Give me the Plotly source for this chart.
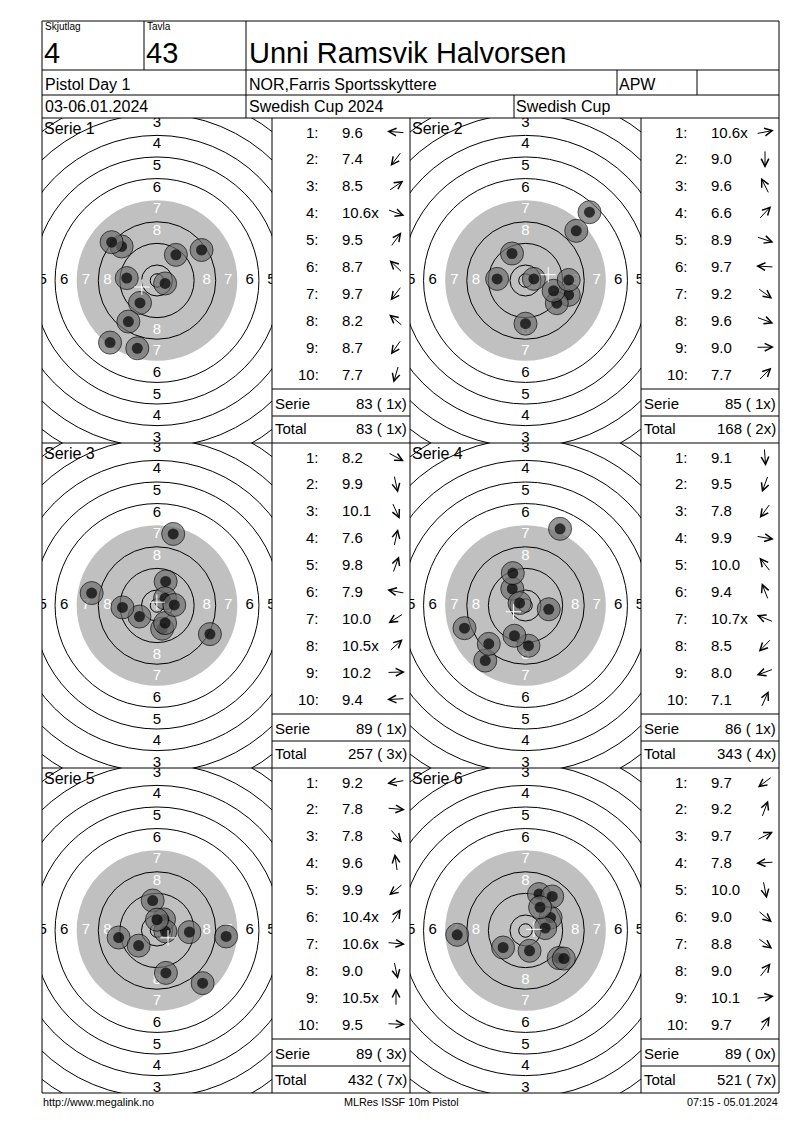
import math
import plotly.graph_objects as go

# ---------------------------------------------------------------
# Data read from the result sheet
# ---------------------------------------------------------------
SHOOTING_GROUP = "4"
TARGET_NO = "43"
SHOOTER = "Unni Ramsvik Halvorsen"
EVENT = "Pistol Day 1"
CLUB = "NOR,Farris Sportsskyttere"
SHOOTER_CLASS = "APW"
DATES = "03-06.01.2024"
COMPETITION = "Swedish Cup 2024"
CUP = "Swedish Cup"

SERIES_NAMES = ["Serie 1", "Serie 2", "Serie 3", "Serie 4", "Serie 5", "Serie 6"]

# shot centres in mm from the target centre (y up), in shot order
S1_X = [-11.2, -17.4, 16.5, 3.0, 7.0, -13.1, -6.3, -16.8, -10.6, -7.3]
S1_Y = [0.9, -23.0, 11.3, -1.1, 9.5, 12.6, -8.3, 14.2, -15.2, -25.1]
S2_X = [3.1, 0.0, -5.0, 23.7, 16.0, -10.5, 11.6, 10.4, 16.0, 18.8]
S2_Y = [0.6, -16.0, 10.0, 25.3, -5.3, 0.6, -8.4, -3.8, 0.2, 18.4]
S3_X = [19.6, 1.9, 3.0, 6.0, 3.2, -24.2, -6.5, 3.0, 6.4, -12.8]
S3_Y = [-10.6, -8.6, -6.5, 26.5, 8.9, 4.6, -4.1, 2.7, 0.2, -0.7]
S4_X = [1.1, -4.1, -14.9, 8.6, -4.9, -4.7, -2.2, -13.6, -22.6, 12.8]
S4_Y = [-14.9, -11.2, -20.4, -1.4, 6.2, 12.0, 0.9, -14.2, -8.4, 28.4]
S5_X = [-14.2, 25.6, 16.9, -1.6, -6.8, 2.6, 3.1, 3.3, 0.0, 12.0]
S5_Y = [-2.6, -2.2, -19.5, 11.1, -5.6, 4.1, -0.3, -15.7, 4.0, -0.6]
S6_X = [-8.3, 5.0, 9.3, -25.3, 1.5, 12.3, 14.2, 9.9, 7.3, 5.4]
S6_Y = [-6.3, 13.5, 4.8, -1.6, -7.5, -10.2, -10.4, 12.6, 0.9, 8.6]

S1_SCORES = ["9.6", "7.4", "8.5", "10.6x", "9.5", "8.7", "9.7", "8.2", "8.7", "7.7"]
S2_SCORES = ["10.6x", "9.0", "9.6", "6.6", "8.9", "9.7", "9.2", "9.6", "9.0", "7.7"]
S3_SCORES = ["8.2", "9.9", "10.1", "7.6", "9.8", "7.9", "10.0", "10.5x", "10.2", "9.4"]
S4_SCORES = ["9.1", "9.5", "7.8", "9.9", "10.0", "9.4", "10.7x", "8.5", "8.0", "7.1"]
S5_SCORES = ["9.2", "7.8", "7.8", "9.6", "9.9", "10.4x", "10.6x", "9.0", "10.5x", "9.5"]
S6_SCORES = ["9.7", "9.2", "9.7", "7.8", "10.0", "9.0", "8.8", "9.0", "10.1", "9.7"]

SERIES_SUM = [83, 85, 89, 86, 89, 89]
SERIES_INNER = [1, 1, 1, 1, 3, 0]
TOTAL_SUM = [83, 168, 257, 343, 432, 521]
TOTAL_INNER = [1, 2, 3, 4, 7, 7]

# ISSF 10m air pistol target, outer radius of rings 1..10 (mm)
RING_NUMBERS = [1, 2, 3, 4, 5, 6, 7, 8, 9, 10]
RING_RADII = [77.75, 69.75, 61.75, 53.75, 45.75, 37.75, 29.75, 21.75, 13.75, 5.75]
INNER_TEN_RADIUS = 2.5
BLACK_RING = 7
LABELLED_RINGS = [1, 2, 3, 4, 5, 6, 7, 8]

FOOTER_LEFT = "http://www.megalink.no"
FOOTER_MID = "MLRes ISSF 10m Pistol"
FOOTER_RIGHT = "07:15 - 05.01.2024"

SHOTS_X = [S1_X, S2_X, S3_X, S4_X, S5_X, S6_X]
SHOTS_Y = [S1_Y, S2_Y, S3_Y, S4_Y, S5_Y, S6_Y]
SCORES = [S1_SCORES, S2_SCORES, S3_SCORES, S4_SCORES, S5_SCORES, S6_SCORES]

# ---------------------------------------------------------------
# Page geometry (pixels)
# ---------------------------------------------------------------
PAGE_W = 800
PAGE_H = 1130
LEFT, RIGHT = 42, 779
HEAD_ROWS = [21, 70, 95, 118]
PANEL_TOP = 118
PANEL_H = 325
TARGET_COLS = [(42, 272), (410, 641)]
SCORE_COLS = [(272, 410), (641, 779)]
PX_PER_MM = 2.7
FONT = "Liberation Sans"
NBSP = "\u00a0"


def pxx(x):
    """Pixel x -> paper x."""
    return x / PAGE_W


def pxy(y):
    """Pixel y (from top) -> paper y."""
    return 1 - y / PAGE_H


def text(x, y, s, size, anchor="left", color="black"):
    return dict(x=pxx(x), y=pxy(y), xref="paper", yref="paper", text=s,
                showarrow=False, xanchor=anchor, yanchor="middle",
                font=dict(family=FONT, size=size, color=color))


def line(x0, y0, x1, y1):
    return dict(type="line", xref="paper", yref="paper",
                x0=pxx(x0), y0=pxy(y0), x1=pxx(x1), y1=pxy(y1),
                line=dict(color="black", width=1), layer="above")


def add_target(fig, layout, shapes, k):
    """Draw one target with its shots into subplot k."""
    row, col = divmod(k, 2)
    x0, x1 = TARGET_COLS[col]
    top = PANEL_TOP + row * PANEL_H
    bottom = top + PANEL_H
    n = k + 1
    xa = "x" if n == 1 else f"x{n}"
    ya = "y" if n == 1 else f"y{n}"
    half_w = (x1 - x0) / 2 / PX_PER_MM
    half_h = PANEL_H / 2 / PX_PER_MM
    layout[f"xaxis{'' if n == 1 else n}"] = dict(
        domain=[pxx(x0), pxx(x1)], range=[-half_w, half_w], visible=False,
        fixedrange=True, anchor=ya)
    layout[f"yaxis{'' if n == 1 else n}"] = dict(
        domain=[pxy(bottom), pxy(top)], range=[-half_h, half_h], visible=False,
        fixedrange=True, anchor=xa)

    # grey aiming mark
    r7 = RING_RADII[RING_NUMBERS.index(BLACK_RING)]
    shapes.append(dict(type="circle", xref=xa, yref=ya, x0=-r7, x1=r7, y0=-r7, y1=r7,
                       fillcolor="#C0C0C0", line=dict(width=0), layer="below"))
    # ring lines (the edge of the aiming mark has none)
    for ring, r in zip(RING_NUMBERS, RING_RADII):
        if ring == BLACK_RING:
            continue
        shapes.append(dict(type="circle", xref=xa, yref=ya, x0=-r, x1=r, y0=-r, y1=r,
                           line=dict(color="black", width=1), layer="below"))
    shapes.append(dict(type="circle", xref=xa, yref=ya,
                       x0=-INNER_TEN_RADIUS, x1=INNER_TEN_RADIUS,
                       y0=-INNER_TEN_RADIUS, y1=INNER_TEN_RADIUS,
                       line=dict(color="black", width=1), layer="below"))

    # ring numbers in the middle of each band, only those that reach the panel
    lx, ly, lt, lc = [], [], [], []
    for ring in LABELLED_RINGS:
        mid = RING_RADII[RING_NUMBERS.index(ring)] - 4
        colour = "white" if ring >= BLACK_RING else "black"
        for dx, dy in [(0, 1), (0, -1), (-1, 0), (1, 0)]:
            limit = half_w if dx else half_h
            if mid - 2 > limit:
                continue
            lx.append(dx * (mid + 0.6))
            ly.append(dy * (mid + 0.6))
            lt.append(str(ring))
            lc.append(colour)
    fig.add_trace(go.Scatter(x=lx, y=ly, text=lt, mode="text", xaxis=xa, yaxis=ya,
                             textfont=dict(family=FONT, size=15, color=lc),
                             hoverinfo="skip", cliponaxis=True))

    # shots: grey hole with a black centre, drawn in shot order
    sx, sy, size, colour, lw = [], [], [], [], []
    for x, y in zip(SHOTS_X[k], SHOTS_Y[k]):
        sx += [x, x]
        sy += [y, y]
        size += [23, 11]
        colour += ["#6E6E6E", "black"]
        lw += [1, 0]
    fig.add_trace(go.Scatter(x=sx, y=sy, mode="markers", xaxis=xa, yaxis=ya,
                             marker=dict(size=size, color=colour,
                                         line=dict(color="black", width=lw)),
                             hoverinfo="skip", cliponaxis=True))

    # group centre
    mx = sum(SHOTS_X[k]) / len(SHOTS_X[k])
    my = sum(SHOTS_Y[k]) / len(SHOTS_Y[k])
    fig.add_trace(go.Scatter(x=[mx], y=[my], mode="markers", xaxis=xa, yaxis=ya,
                             marker=dict(symbol="cross-thin", size=11,
                                         line=dict(color="white", width=1)),
                             hoverinfo="skip"))


def score_annotations(k):
    """Score list, arrows and sums beside target k."""
    row, col = divmod(k, 2)
    sx0, sx1 = SCORE_COLS[col]
    tx0, tx1 = TARGET_COLS[col]
    top = PANEL_TOP + row * PANEL_H
    ann = [text(tx0, top + 10, SERIES_NAMES[k], 16)]
    arrow_len = 18
    for i, score in enumerate(SCORES[k]):
        yc = top + 14 + i * 26.9
        ann.append(text(sx0 + 49, yc, f"{i + 1}:", 15, anchor="right"))
        ann.append(text(sx0 + 68, yc, score, 15))
        # arrow points the way the shot lies from the centre
        ang = math.atan2(SHOTS_Y[k][i], SHOTS_X[k][i])
        cx, cy = sx0 + 124, yc
        tipx = cx + arrow_len / 2 * math.cos(ang)
        tipy = cy - arrow_len / 2 * math.sin(ang)
        ann.append(dict(x=pxx(tipx), y=pxy(tipy), xref="paper", yref="paper", text="",
                        showarrow=True, ax=-arrow_len * math.cos(ang),
                        ay=arrow_len * math.sin(ang), arrowhead=5, arrowsize=1.5,
                        arrowwidth=1, arrowcolor="black", standoff=0, startstandoff=0))
    ann.append(text(sx0 + 1, top + 285, "Serie", 15))
    ann.append(text(sx1 - 1, top + 285, f"{SERIES_SUM[k]} ({NBSP}{SERIES_INNER[k]}x)", 15,
                    anchor="right"))
    ann.append(text(sx0 + 1, top + 311, "Total", 15))
    ann.append(text(sx1 - 1, top + 311, f"{TOTAL_SUM[k]} ({NBSP}{TOTAL_INNER[k]}x)", 15,
                    anchor="right"))
    return ann


def main():
    fig = go.Figure()
    layout = {}
    shapes = []
    annotations = []

    for k in range(len(SERIES_NAMES)):
        add_target(fig, layout, shapes, k)
        annotations += score_annotations(k)

    # sheet frame and header grid
    shapes.append(dict(type="rect", xref="paper", yref="paper",
                       x0=pxx(LEFT), x1=pxx(RIGHT), y0=pxy(1093), y1=pxy(HEAD_ROWS[0]),
                       line=dict(color="black", width=1), layer="above"))
    for y in HEAD_ROWS[1:]:
        shapes.append(line(LEFT, y, RIGHT, y))
    for r in range(1, 3):
        shapes.append(line(LEFT, PANEL_TOP + r * PANEL_H, RIGHT, PANEL_TOP + r * PANEL_H))
    shapes.append(line(144, 21, 144, 70))
    shapes.append(line(246, 21, 246, 118))
    shapes.append(line(617, 70, 617, 95))
    shapes.append(line(697, 70, 697, 95))
    shapes.append(line(514, 95, 514, 118))
    for x in [272, 410, 641]:
        shapes.append(line(x, PANEL_TOP, x, PANEL_TOP + 3 * PANEL_H))
    for r in range(3):
        top = PANEL_TOP + r * PANEL_H
        for sx0, sx1 in SCORE_COLS:
            shapes.append(line(sx0, top + 271, sx1, top + 271))
            shapes.append(line(sx0, top + 298, sx1, top + 298))

    # header texts
    annotations += [
        text(43, 27, "Skjutlag", 10),
        text(145, 27, "Tavla", 10),
        text(42, 53, SHOOTING_GROUP, 29),
        text(144, 53, TARGET_NO, 29),
        text(247, 53, SHOOTER, 29),
        text(43, 84, EVENT, 16),
        text(247, 84, CLUB, 16),
        text(617, 84, SHOOTER_CLASS, 16),
        text(43, 107, DATES, 16),
        text(247, 107, COMPETITION, 16),
        text(514, 107, CUP, 16),
        text(41, 1102, FOOTER_LEFT, 10.8),
        text(401, 1102, FOOTER_MID, 10.8, anchor="center"),
        text(780, 1102, FOOTER_RIGHT, 10.8, anchor="right"),
    ]

    fig.update_layout(
        width=PAGE_W, height=PAGE_H,
        margin=dict(l=0, r=0, t=0, b=0),
        paper_bgcolor="white", plot_bgcolor="white",
        showlegend=False,
        font=dict(family=FONT, color="black"),
        shapes=shapes, annotations=annotations,
        **layout,
    )
    fig.write_html("out.html", config={"displayModeBar": False},
                   post_script="document.body.style.margin='0';")


if __name__ == "__main__":
    main()
